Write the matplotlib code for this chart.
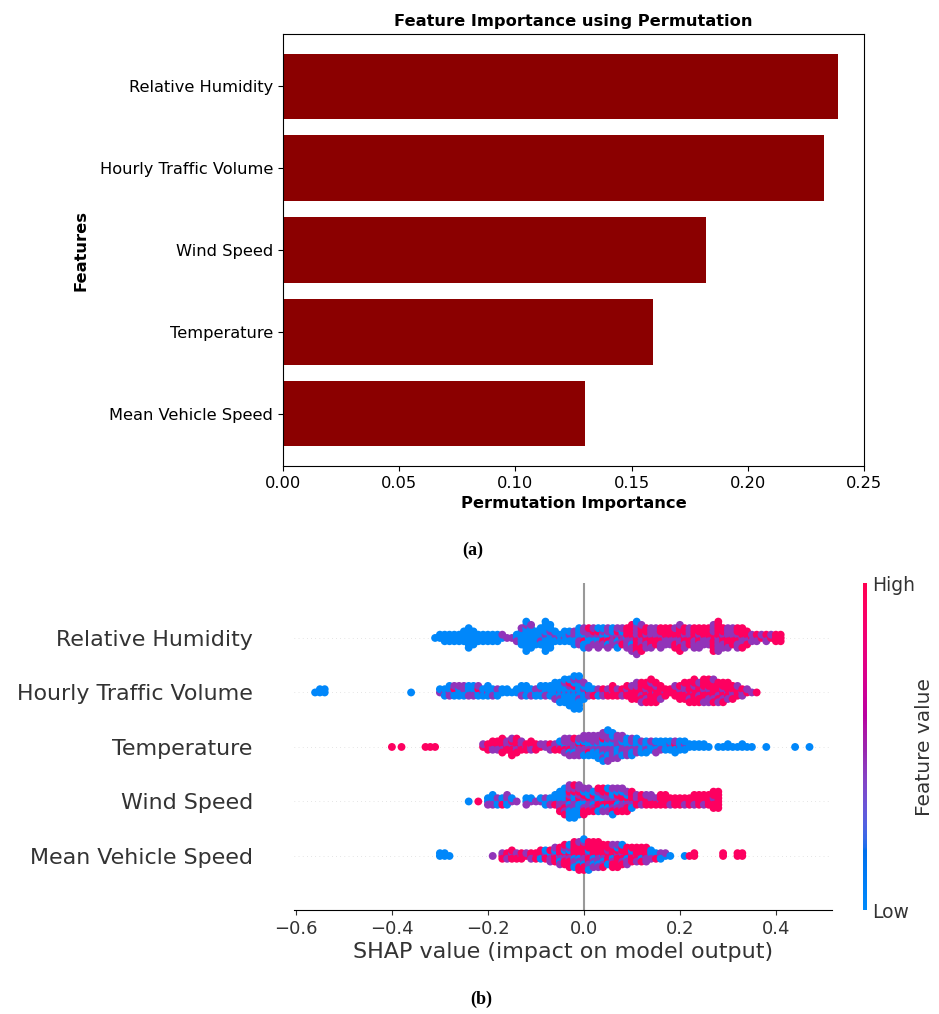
import numpy as np
import matplotlib
matplotlib.use("Agg")
import matplotlib.pyplot as plt
from matplotlib.colors import LinearSegmentedColormap, Normalize
from matplotlib.cm import ScalarMappable

# ---------------- Panel (a): permutation importance ----------------
perm_features = ["Mean Vehicle Speed", "Temperature", "Wind Speed",
                 "Hourly Traffic Volume", "Relative Humidity"]
perm_importance = [0.130, 0.159, 0.182, 0.233, 0.239]

# ---------------- Panel (b): SHAP beeswarm ----------------
# rows from top to bottom
shap_features = ["Relative Humidity", "Hourly Traffic Volume", "Temperature",
                 "Wind Speed", "Mean Vehicle Speed"]

# feature-value level used for colouring each class of points
FV_LOW, FV_MID, FV_HIGH = 0.03, 0.45, 0.93

# SHAP value bins (in hundredths) and number of points with a low / mid / high
# feature value in each bin
rh_pct = [-31, -30, -29, -28, -27, -26, -25, -24, -23, -22,
          -21, -20, -19, -18, -17, -16, -15, -14, -13, -12,
          -11, -10, -9, -8, -7, -6, -5, -4, -3, -2,
          -1, 0, 1, 2, 3, 4, 5, 6, 7, 8,
          9, 10, 11, 12, 13, 14, 15, 16, 17, 18,
          19, 20, 21, 22, 23, 24, 25, 26, 27, 28,
          29, 30, 31, 32, 33, 34, 35, 36, 37, 38,
          39, 40, 41]
rh_low = [1, 2, 3, 3, 3, 3, 4, 7, 5, 3,
          3, 3, 3, 3, 1, 0, 0, 2, 5, 9,
          7, 5, 5, 9, 7, 3, 2, 3, 3, 3,
          4, 3, 3, 2, 3, 2, 2, 2, 2, 1,
          1, 1, 1, 0, 0, 0, 0, 0, 0, 0,
          0, 0, 0, 0, 0, 0, 0, 0, 0, 0,
          0, 0, 0, 0, 0, 0, 0, 0, 0, 0,
          0, 0, 0]
rh_mid = [0, 0, 0, 0, 0, 0, 0, 0, 0, 0,
          0, 0, 0, 0, 1, 1, 1, 1, 1, 1,
          1, 0, 1, 1, 1, 1, 1, 1, 1, 2,
          2, 3, 3, 3, 3, 3, 4, 3, 3, 3,
          3, 4, 5, 4, 3, 4, 3, 3, 3, 3,
          3, 4, 3, 3, 3, 3, 3, 3, 4, 5,
          3, 4, 3, 3, 3, 2, 2, 2, 1, 2,
          1, 0, 0]
rh_high = [0, 0, 0, 0, 0, 0, 0, 0, 0, 0,
           0, 0, 0, 0, 0, 0, 0, 0, 0, 0,
           0, 0, 0, 0, 0, 0, 0, 0, 0, 0,
           0, 1, 1, 1, 1, 1, 1, 1, 2, 2,
           3, 4, 5, 5, 4, 3, 3, 4, 3, 3,
           4, 5, 4, 3, 4, 4, 3, 3, 5, 5,
           4, 3, 3, 4, 4, 3, 1, 1, 1, 1,
           1, 3, 3]

htv_pct = [-56, -55, -54, -36,
           -30, -29, -28, -27, -26, -25, -24, -23, -22, -21,
           -20, -19, -18, -17, -16, -15, -14, -13, -12, -11,
           -10, -9, -8, -7, -6, -5, -4, -3, -2, -1,
           0, 1, 2, 3, 4, 5, 6, 7, 8, 9,
           10, 11, 12, 13, 14, 15, 16, 17, 18, 19,
           20, 21, 22, 23, 24, 25, 26, 27, 28, 29,
           30, 31, 32, 33, 34, 35, 36]
htv_low = [1, 2, 2, 1,
           1, 2, 2, 2, 3, 2, 3, 2, 2, 2,
           3, 2, 2, 2, 2, 1, 2, 3, 3, 2,
           2, 3, 3, 3, 5, 5, 6, 6, 8, 8,
           4, 2, 1, 1, 0, 0, 0, 0, 0, 0,
           0, 0, 0, 0, 0, 0, 0, 0, 0, 0,
           0, 0, 0, 0, 0, 0, 0, 0, 0, 0,
           0, 0, 0, 0, 0, 0, 0]
htv_mid = [0, 0, 0, 0,
           1, 1, 2, 1, 1, 2, 1, 2, 1, 1,
           1, 1, 1, 0, 0, 0, 0, 1, 1, 1,
           1, 1, 1, 1, 1, 2, 2, 2, 2, 3,
           2, 1, 1, 1, 2, 1, 1, 1, 1, 1,
           1, 2, 2, 2, 2, 2, 1, 1, 0, 1,
           1, 2, 2, 2, 2, 2, 3, 2, 2, 2,
           2, 2, 1, 2, 1, 1, 0]
htv_high = [0, 0, 0, 0,
            0, 0, 0, 1, 0, 0, 0, 0, 1, 0,
            0, 0, 0, 0, 0, 0, 0, 0, 0, 0,
            0, 0, 0, 0, 0, 0, 0, 1, 1, 0,
            0, 1, 1, 1, 1, 2, 3, 2, 2, 3,
            4, 4, 5, 5, 6, 5, 4, 2, 2, 3,
            4, 4, 5, 6, 5, 6, 5, 6, 5, 5,
            4, 3, 3, 1, 1, 0, 1]

temp_pct = [-40, -38, -33, -32, -31,
            -21, -20, -19, -18, -17, -16, -15, -14, -13, -12,
            -11, -10, -9, -8, -7, -6, -5, -4, -3, -2,
            -1, 0, 1, 2, 3, 4, 5, 6, 7, 8,
            9, 10, 11, 12, 13, 14, 15, 16, 17, 18,
            19, 20, 21, 22, 23, 24, 25, 26, 27, 28,
            29, 30, 31, 32, 33, 34, 35,
            38, 44, 47]
temp_low = [0, 0, 0, 0, 0,
            0, 0, 0, 0, 0, 0, 0, 0, 0, 0,
            0, 0, 0, 0, 0, 0, 1, 1, 1, 2,
            2, 2, 3, 3, 4, 4, 5, 4, 4, 3,
            3, 3, 3, 3, 3, 3, 3, 3, 3, 3,
            3, 3, 3, 2, 2, 2, 2, 1, 0, 1,
            1, 2, 1, 1, 2, 1, 1,
            1, 1, 1]
temp_mid = [0, 0, 0, 0, 0,
            1, 1, 2, 2, 2, 2, 2, 2, 2, 1,
            2, 1, 1, 2, 2, 2, 2, 4, 5, 4,
            4, 5, 4, 5, 5, 6, 7, 6, 5, 5,
            4, 4, 3, 2, 2, 1, 2, 1, 1, 1,
            1, 1, 1, 0, 0, 0, 0, 0, 0, 0,
            0, 0, 0, 0, 0, 0, 0,
            0, 0, 0]
temp_high = [1, 1, 1, 1, 1,
             1, 2, 2, 2, 4, 2, 5, 4, 2, 2,
             2, 2, 1, 0, 1, 1, 1, 1, 1, 1,
             1, 1, 1, 0, 0, 1, 0, 0, 0, 0,
             0, 0, 0, 0, 0, 0, 0, 0, 0, 0,
             1, 0, 0, 0, 0, 0, 0, 0, 0, 0,
             0, 0, 0, 0, 0, 0, 0,
             0, 0, 0]

ws_pct = [-24, -23, -22, -21, -20, -19, -18, -17, -16, -15,
          -14, -13, -12, -11, -10, -9, -8, -7, -6, -5,
          -4, -3, -2, -1, 0, 1, 2, 3, 4, 5,
          6, 7, 8, 9, 10, 11, 12, 13, 14, 15,
          16, 17, 18, 19, 20, 21, 22, 23, 24, 25,
          26, 27, 28]
ws_low = [1, 0, 0, 0, 2, 2, 2, 1, 2, 1,
          0, 0, 2, 1, 0, 1, 2, 2, 2, 3,
          4, 4, 5, 4, 3, 3, 2, 3, 2, 2,
          3, 2, 2, 2, 1, 0, 0, 0, 0, 0,
          0, 0, 0, 0, 0, 0, 0, 0, 0, 0,
          0, 0, 0]
ws_mid = [0, 0, 0, 0, 1, 2, 1, 1, 2, 1,
          1, 0, 1, 1, 1, 1, 1, 1, 1, 3,
          3, 5, 4, 4, 3, 3, 3, 2, 3, 3,
          3, 3, 3, 2, 2, 2, 1, 1, 2, 1,
          1, 0, 1, 0, 0, 1, 0, 1, 0, 1,
          0, 1, 0]
ws_high = [0, 0, 1, 0, 0, 0, 0, 1, 0, 0,
           0, 0, 0, 0, 0, 0, 0, 0, 1, 1,
           2, 2, 2, 2, 3, 2, 2, 3, 3, 3,
           3, 3, 3, 3, 3, 2, 3, 3, 2, 2,
           3, 4, 2, 3, 3, 2, 3, 3, 4, 3,
           4, 5, 6]

mvs_pct = [-30, -29, -28, -19,
           -17, -16, -15, -14, -13, -12, -11, -10, -9, -8,
           -7, -6, -5, -4, -3, -2, -1, 0, 1, 2,
           3, 4, 5, 6, 7, 8, 9, 10, 11, 12,
           13, 14, 15, 16, 17, 18,
           21, 22, 23, 29, 32, 33]
mvs_low = [2, 2, 1, 0,
           0, 0, 0, 0, 0, 0, 0, 0, 1, 1,
           1, 1, 2, 2, 2, 2, 2, 2, 2, 2,
           2, 2, 1, 1, 1, 1, 1, 1, 0, 1,
           0, 2, 1, 1, 1, 1,
           1, 0, 0, 0, 0, 0]
mvs_mid = [0, 0, 0, 1,
           1, 1, 1, 1, 1, 1, 1, 1, 1, 1,
           2, 2, 2, 2, 3, 3, 3, 4, 3, 3,
           3, 2, 2, 3, 2, 2, 2, 1, 2, 1,
           2, 2, 1, 2, 1, 0,
           0, 0, 0, 0, 0, 0]
mvs_high = [0, 0, 0, 0,
            2, 2, 3, 2, 2, 1, 2, 2, 2, 2,
            2, 3, 3, 4, 4, 5, 6, 6, 6, 5,
            5, 5, 5, 5, 6, 5, 4, 4, 4, 4,
            4, 0, 1, 0, 0, 0,
            0, 1, 2, 2, 2, 2]

shap_rows = [
    (rh_pct, rh_low, rh_mid, rh_high),
    (htv_pct, htv_low, htv_mid, htv_high),
    (temp_pct, temp_low, temp_mid, temp_high),
    (ws_pct, ws_low, ws_mid, ws_high),
    (mvs_pct, mvs_low, mvs_mid, mvs_high),
]


# ---------------- SHAP red-blue colormap (perceptual LCH interpolation) ----------------
def lch2rgb(l, c, h):
    a = c * np.cos(h)
    b = c * np.sin(h)
    fy = (l + 16.0) / 116.0
    fx = fy + a / 500.0
    fz = fy - b / 200.0

    def finv(t):
        return np.where(t > 6 / 29, t ** 3, 3 * (6 / 29) ** 2 * (t - 4 / 29))
    X = 0.95047 * finv(fx)
    Y = 1.00000 * finv(fy)
    Z = 1.08883 * finv(fz)
    r = 3.2404542 * X - 1.5371385 * Y - 0.4985314 * Z
    g = -0.9692660 * X + 1.8760108 * Y + 0.0415560 * Z
    bb = 0.0556434 * X - 0.2040259 * Y + 1.0572252 * Z
    rgb = np.array([r, g, bb])
    rgb = np.where(rgb > 0.0031308, 1.055 * np.abs(rgb) ** (1 / 2.4) - 0.055, 12.92 * rgb)
    return np.clip(rgb, 0, 1)


blue_lch = [54.0, 70.0, 4.6588]
l_mid = 40.0
red_lch = [54.0, 90.0, 0.35470565 + 2 * np.pi]
nsteps = 100
l_vals = list(np.linspace(blue_lch[0], l_mid, nsteps // 2)) + list(np.linspace(l_mid, red_lch[0], nsteps // 2))
c_vals = np.linspace(blue_lch[1], red_lch[1], nsteps)
h_vals = np.linspace(blue_lch[2], red_lch[2], nsteps)
cols = [lch2rgb(l, c, h) for l, c, h in zip(l_vals, c_vals, h_vals)]
red_blue = LinearSegmentedColormap.from_list("red_blue", cols)


def expand(pct, low, mid, high):
    """One entry per point; colours within a bin are mixed with a
    deterministic low-discrepancy ordering (layout only)."""
    xs, cs = [], []
    for b, (v, nl, nm, nh) in enumerate(zip(pct, low, mid, high)):
        seq = [FV_LOW] * nl + [FV_MID] * nm + [FV_HIGH] * nh
        n = len(seq)
        if n == 0:
            continue
        order = np.argsort((np.arange(n) * 0.6180339887 + b * 0.377) % 1.0)
        xs += [v / 100.0] * n
        cs += [seq[k] for k in order]
    return np.array(xs), np.array(cs)


def beeswarm(shaps, row_height=0.4):
    """Vertical offsets as in shap.summary_plot."""
    N = len(shaps)
    nbins = 100
    quant = np.round(nbins * (shaps - np.min(shaps)) / (np.max(shaps) - np.min(shaps) + 1e-8))
    inds = np.argsort(quant, kind="stable")
    layer = 0
    last_bin = -1
    ys = np.zeros(N)
    for ind in inds:
        if quant[ind] != last_bin:
            layer = 0
        ys[ind] = np.ceil(layer / 2) * ((layer % 2) * 2 - 1)
        layer += 1
        last_bin = quant[ind]
    ys *= 0.9 * (row_height / np.max(ys + 1))
    return ys


fig = plt.figure(figsize=(9.39, 10.14), dpi=100)
fig.patch.set_facecolor("white")

# ---------------- Panel (a) ----------------
fs_a = 11.7
ax1 = fig.add_axes([0.3014, 0.5404, 0.6187, 0.4261])
ax1.barh(perm_features, perm_importance, color="darkred", height=0.8)
ax1.set_xlim(0, 0.25)
ax1.set_xticks([0.0, 0.05, 0.10, 0.15, 0.20, 0.25])
ax1.set_xticklabels(["0.00", "0.05", "0.10", "0.15", "0.20", "0.25"])
ax1.tick_params(labelsize=fs_a)
ax1.set_title("Feature Importance using Permutation", fontsize=fs_a, fontweight="bold")
ax1.set_xlabel("Permutation Importance", fontsize=fs_a, fontweight="bold")
ax1.set_ylabel("Features", fontsize=fs_a, fontweight="bold", labelpad=8)

# ---------------- Panel (b) ----------------
axis_color = "#333333"
ax2 = fig.add_axes([0.3136, 0.1021, 0.5725, 0.3225])
nrows = len(shap_features)
for i, (feat, row) in enumerate(zip(shap_features, shap_rows)):
    pos = nrows - 1 - i
    ax2.axhline(y=pos, color="#cccccc", lw=0.5, dashes=(1, 5), zorder=-1)
    xs, cs = expand(*row)
    ys = beeswarm(xs)
    ax2.scatter(xs, pos + ys, c=cs, cmap=red_blue, vmin=0, vmax=1, s=32,
                linewidth=0, alpha=1, zorder=3)

ax2.axvline(x=0, color="#999999", zorder=-1)
ax2.set_xlim(-0.603, 0.517)
ax2.set_ylim(-1, nrows)
ax2.set_yticks(range(nrows))
ax2.set_yticklabels(shap_features[::-1], fontsize=15.9)
ax2.xaxis.set_ticks_position("bottom")
ax2.yaxis.set_ticks_position("none")
for sp in ["right", "top", "left"]:
    ax2.spines[sp].set_visible(False)
ax2.tick_params(color=axis_color, labelcolor=axis_color)
ax2.tick_params("y", length=0, pad=30)
ax2.tick_params("x", labelsize=13)
ax2.set_xlabel("SHAP value (impact on model output)", fontsize=16, color=axis_color,
               labelpad=3)

cax = fig.add_axes([0.919, 0.1021, 0.0043, 0.3225])
sm = ScalarMappable(norm=Normalize(0, 1), cmap=red_blue)
cb = fig.colorbar(sm, cax=cax, ticks=[0, 1])
cb.set_ticklabels(["Low", "High"])
cb.ax.tick_params(labelsize=13.5, length=0, labelcolor=axis_color)
cb.set_label("Feature value", size=14.5, labelpad=0, color=axis_color)
cb.outline.set_visible(False)

# ---------------- captions ----------------
fig.text(473 / 939, 1 - 550 / 1014, "(a)", family="Liberation Serif", fontsize=13,
         fontweight="bold", ha="center", va="center")
fig.text(481 / 939, 1 - 999 / 1014, "(b)", family="Liberation Serif", fontsize=13,
         fontweight="bold", ha="center", va="center")

fig.savefig("out.png", dpi=100)
